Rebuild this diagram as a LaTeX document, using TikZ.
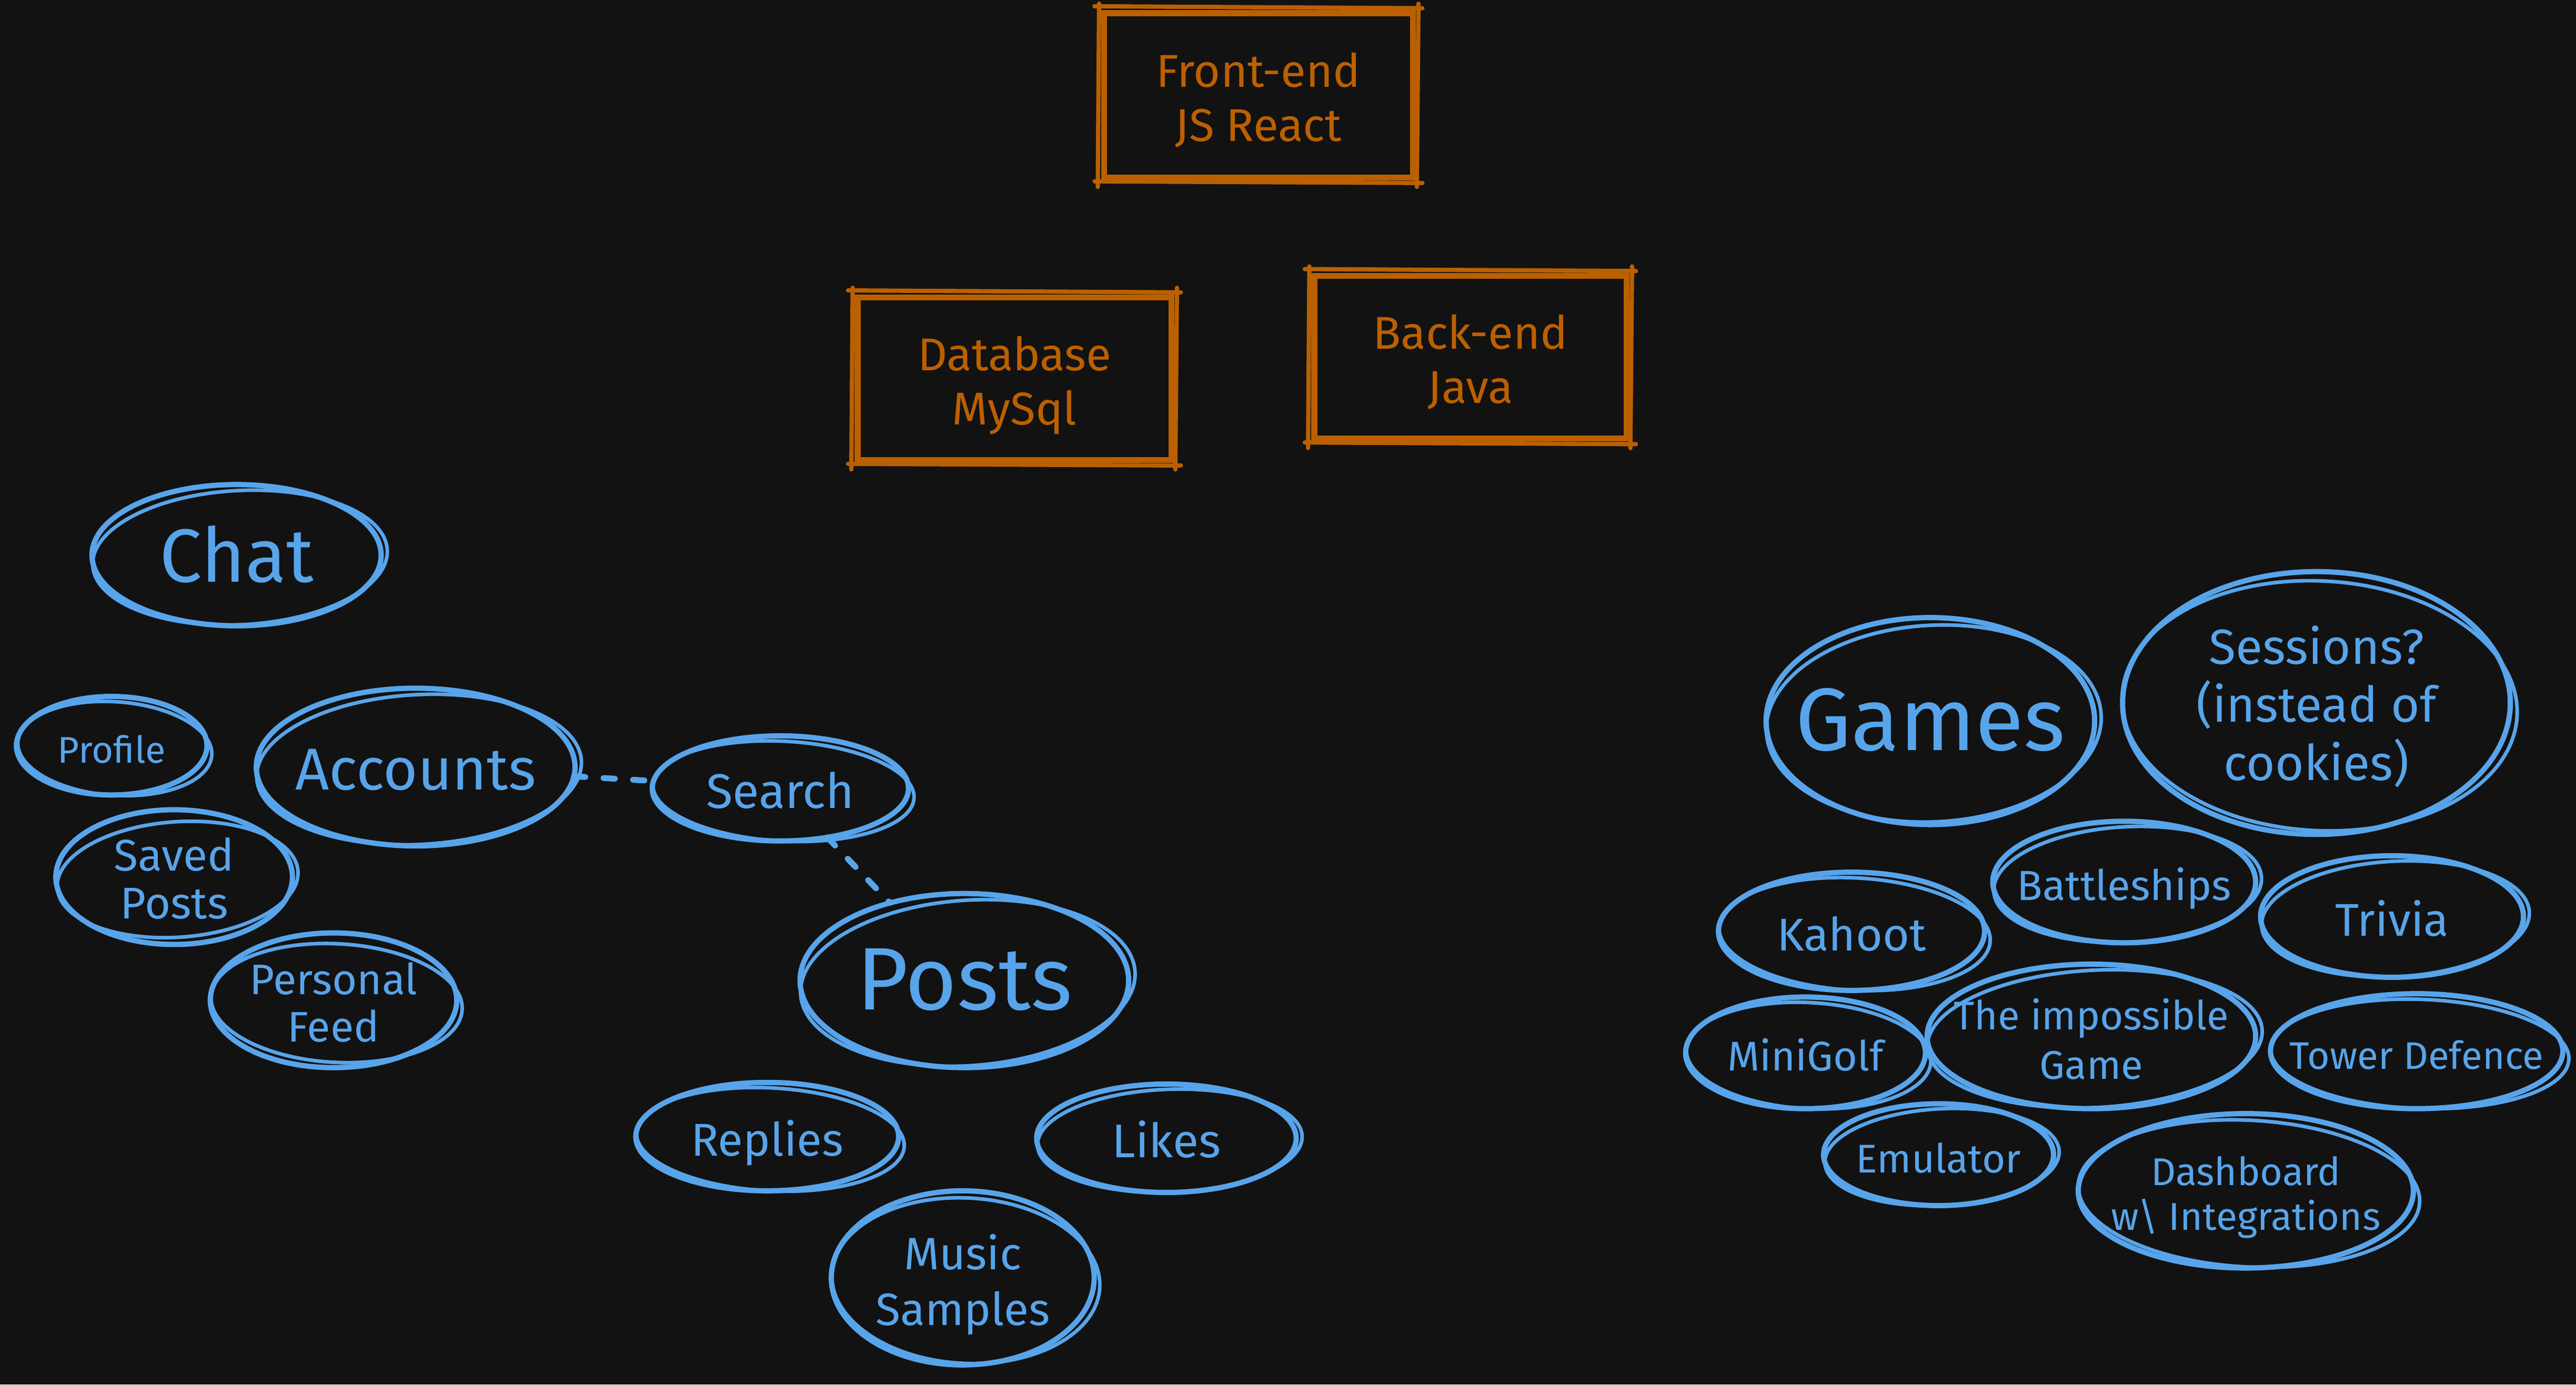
\documentclass[tikz,border=0pt]{standalone}
\usepackage{fontspec}
\setmainfont{Fira Sans}
\usetikzlibrary{shapes.geometric}
\definecolor{bg}{RGB}{18,18,18}
\definecolor{sketchblue}{RGB}{88,164,234}
\definecolor{sketchorange}{RGB}{187,96,0}
\tikzset{
  bubble/.style={ellipse, draw=sketchblue, line width=1.6pt, text=sketchblue, inner sep=0pt, outer sep=0pt},
  bubbletwo/.style={draw=sketchblue, line width=1.1pt},
  obox/.style={rectangle, draw=sketchorange, line width=1.8pt, line cap=round, text=sketchorange, inner sep=0pt},
  oboxtwo/.style={draw=sketchorange, line width=1.3pt, line cap=round},
  link/.style={draw=sketchblue, line width=1.8pt, line cap=round, dash pattern=on 3.5pt off 5.5pt},
}
\newcommand\lowtext[1]{\makebox[0pt]{\raisebox{-2.5pt}[\height][\depth]{\begin{tabular}{@{}c@{}}#1\end{tabular}}}}
\newcommand\bub[9]{%
  \node[bubble, minimum width=#4pt, minimum height=#5pt, font=\fontsize{#6}{#7}\selectfont] (#1) at (#2,#3) {\lowtext{#8}};
  \draw[bubbletwo, rotate around={#9:(#1.center)}] ([shift={(1pt,-0.8pt)}]#1.center) ellipse [x radius=#4*0.51pt, y radius=#5*0.475pt];
}
\newcommand\obox[6]{%
  \node[obox, minimum width=#4pt, minimum height=#5pt, font=\fontsize{14}{16.5}\selectfont] (#1) at (#2,#3) {\lowtext{#6}};
  \draw[oboxtwo] ([shift={(-2pt,1.2pt)}]#1.north west) -- ([shift={(2pt,0.6pt)}]#1.north east)
    ([shift={(0.8pt,2pt)}]#1.north east) -- ([shift={(0.3pt,-2pt)}]#1.south east)
    ([shift={(2pt,-0.8pt)}]#1.south east) -- ([shift={(-2pt,-0.3pt)}]#1.south west)
    ([shift={(-1pt,-2pt)}]#1.south west) -- ([shift={(-0.6pt,2pt)}]#1.north west);
}
\begin{document}
\begin{tikzpicture}[x=0.5pt,y=-0.5pt]
\fill[bg] (0,0) rectangle (1568,843);
\useasboundingbox (0,0) rectangle (1568,843);

% orange boxes
\obox{front}{766}{58}{94}{50}{Front-end\\JS React}
\obox{db}{617.5}{230.5}{95.5}{49.5}{Database\\MySql}
\obox{back}{895}{217.5}{95}{49.5}{Back-end\\Java}

% left cluster
\bub{chat}{144}{338}{88}{43}{23}{28}{Chat}{3}
\bub{profile}{68}{454}{58}{30}{11.3}{14}{Profile}{-4}
\bub{accounts}{253}{467}{97}{48}{18}{22}{Accounts}{3}
\bub{search}{475}{480}{78}{32}{14.8}{18}{Search}{-3}
\bub{saved}{106}{534}{72}{37}{13.5}{14.5}{Saved\\Posts}{4}
\bub{feed}{203}{609}{75}{38}{13}{14.5}{Personal\\Feed}{-3}
\bub{posts}{587}{597}{100}{53}{27}{32}{Posts}{4}
\bub{replies}{467}{692}{80}{33}{14}{17}{Replies}{-3}
\bub{likes}{710}{693}{79}{33}{14.4}{17}{Likes}{2}
\bub{music}{586}{778}{80}{53}{13.8}{17}{Music\\Samples}{-3}

% right cluster
\bub{games}{1175}{439}{100}{63}{27}{32}{Games}{3}
\bub{sessions}{1410}{428}{118}{80}{15}{16.75}{Sessions?\\(instead of\\cookies)}{-3}
\bub{battle}{1293}{537}{80}{37}{12.8}{15}{Battleships}{3}
\bub{kahoot}{1127}{567}{81}{36}{14}{17}{Kahoot}{-3}
\bub{trivia}{1456}{558}{80}{37}{14}{17}{Trivia}{3}
\bub{minigolf}{1099}{641}{73}{34}{12.6}{15}{MiniGolf}{-3}
\bub{impossible}{1273}{631}{100}{44}{12.2}{15}{The impossible\\Game}{3}
\bub{tower}{1471}{640}{89}{35}{11.7}{15}{Tower Defence}{-2}
\bub{emulator}{1180}{703}{70}{31}{12.2}{15}{Emulator}{3}
\bub{dashboard}{1367}{725}{102}{47}{11.8}{13.5}{Dashboard\\w\textbackslash{} Integrations}{-3}

% dashed connectors
\draw[link] (accounts) -- (search);
\draw[link] (search) -- (posts);
\end{tikzpicture}
\end{document}
